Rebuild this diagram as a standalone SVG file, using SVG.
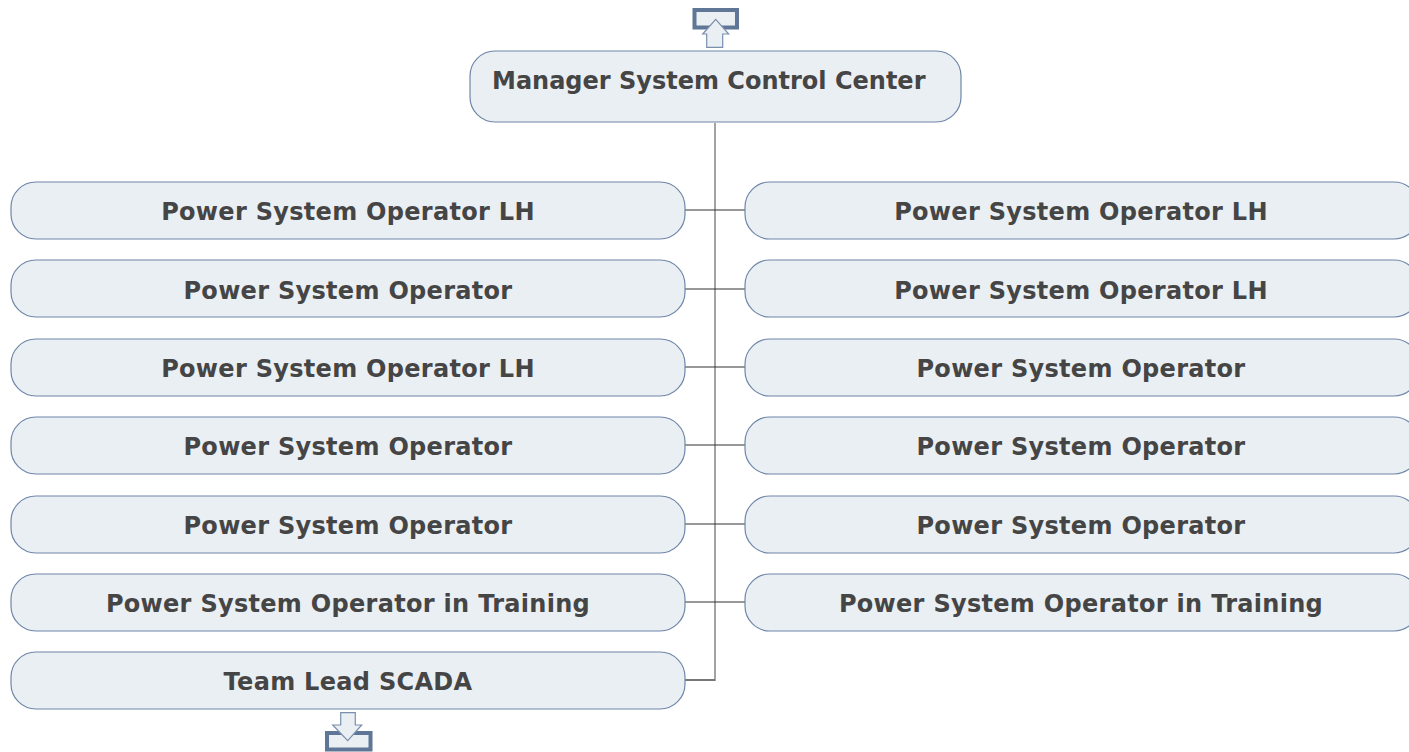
<svg xmlns="http://www.w3.org/2000/svg" width="1409" height="752" viewBox="0 0 1409 752">
<style>
.box{fill:#eaeff3;stroke:#6f86a8;stroke-width:1.2}
.t{font-family:"DejaVu Sans",Verdana,sans-serif;font-weight:bold;font-size:24px;fill:#454545;text-anchor:middle;letter-spacing:0.3px}
.ic{fill:#eaeff3;stroke:#5f7696;stroke-width:4}
.ar{fill:#eaeff3;stroke:#7a8fae;stroke-width:1.2}
.c{stroke:#333;stroke-width:1.2;fill:none}
</style>
<rect width="1409" height="752" fill="#fff"/>
<g id="connectors">
<line class="c" x1="715" y1="123" x2="715" y2="681" style="stroke:#666"/>
<line class="c" x1="685" y1="210" x2="745" y2="210"/>
<line class="c" x1="685" y1="289" x2="745" y2="289"/>
<line class="c" x1="685" y1="367" x2="745" y2="367"/>
<line class="c" x1="685" y1="445" x2="745" y2="445"/>
<line class="c" x1="685" y1="524" x2="745" y2="524"/>
<line class="c" x1="685" y1="602" x2="745" y2="602"/>
<line class="c" x1="685" y1="680" x2="715" y2="680" style="stroke:#777;stroke-width:2"/>
</g>
<g id="up-icon">
<rect class="ic" x="694.5" y="10" width="42.5" height="17.5"/>
<polygon class="ar" points="715.7,19.3 728.7,34 722.7,34 722.7,47.3 706.7,47.3 706.7,34 702.7,34"/>
</g>
<g id="manager">
<rect class="box" x="470" y="51" width="491" height="71" rx="25"/>
<text class="t" x="492" y="89" style="text-anchor:start;letter-spacing:0">Manager System Control Center</text>
</g>
<g id="l1"><rect class="box" x="11" y="182" width="674" height="57" rx="25"/><text class="t" x="348" y="220">Power System Operator LH</text></g>
<g id="l2"><rect class="box" x="11" y="260" width="674" height="57" rx="25"/><text class="t" x="348" y="299">Power System Operator</text></g>
<g id="l3"><rect class="box" x="11" y="339" width="674" height="57" rx="25"/><text class="t" x="348" y="377">Power System Operator LH</text></g>
<g id="l4"><rect class="box" x="11" y="417" width="674" height="57" rx="25"/><text class="t" x="348" y="455">Power System Operator</text></g>
<g id="l5"><rect class="box" x="11" y="496" width="674" height="57" rx="25"/><text class="t" x="348" y="534">Power System Operator</text></g>
<g id="l6"><rect class="box" x="11" y="574" width="674" height="57" rx="25"/><text class="t" x="348" y="612">Power System Operator in Training</text></g>
<g id="l7"><rect class="box" x="11" y="652" width="674" height="57" rx="25"/><text class="t" x="348" y="690">Team Lead SCADA</text></g>
<g id="r1"><rect class="box" x="745" y="182" width="674" height="57" rx="25"/><text class="t" x="1081" y="220">Power System Operator LH</text></g>
<g id="r2"><rect class="box" x="745" y="260" width="674" height="57" rx="25"/><text class="t" x="1081" y="299">Power System Operator LH</text></g>
<g id="r3"><rect class="box" x="745" y="339" width="674" height="57" rx="25"/><text class="t" x="1081" y="377">Power System Operator</text></g>
<g id="r4"><rect class="box" x="745" y="417" width="674" height="57" rx="25"/><text class="t" x="1081" y="455">Power System Operator</text></g>
<g id="r5"><rect class="box" x="745" y="496" width="674" height="57" rx="25"/><text class="t" x="1081" y="534">Power System Operator</text></g>
<g id="r6"><rect class="box" x="745" y="574" width="674" height="57" rx="25"/><text class="t" x="1081" y="612">Power System Operator in Training</text></g>
<g id="down-icon">
<rect class="ic" x="327" y="733" width="43.5" height="16.5"/>
<polygon class="ar" points="340.7,712.7 355.3,712.7 355.3,725 361.7,725 347.7,740.7 332.7,725 340.7,725"/>
</g>
</svg>
